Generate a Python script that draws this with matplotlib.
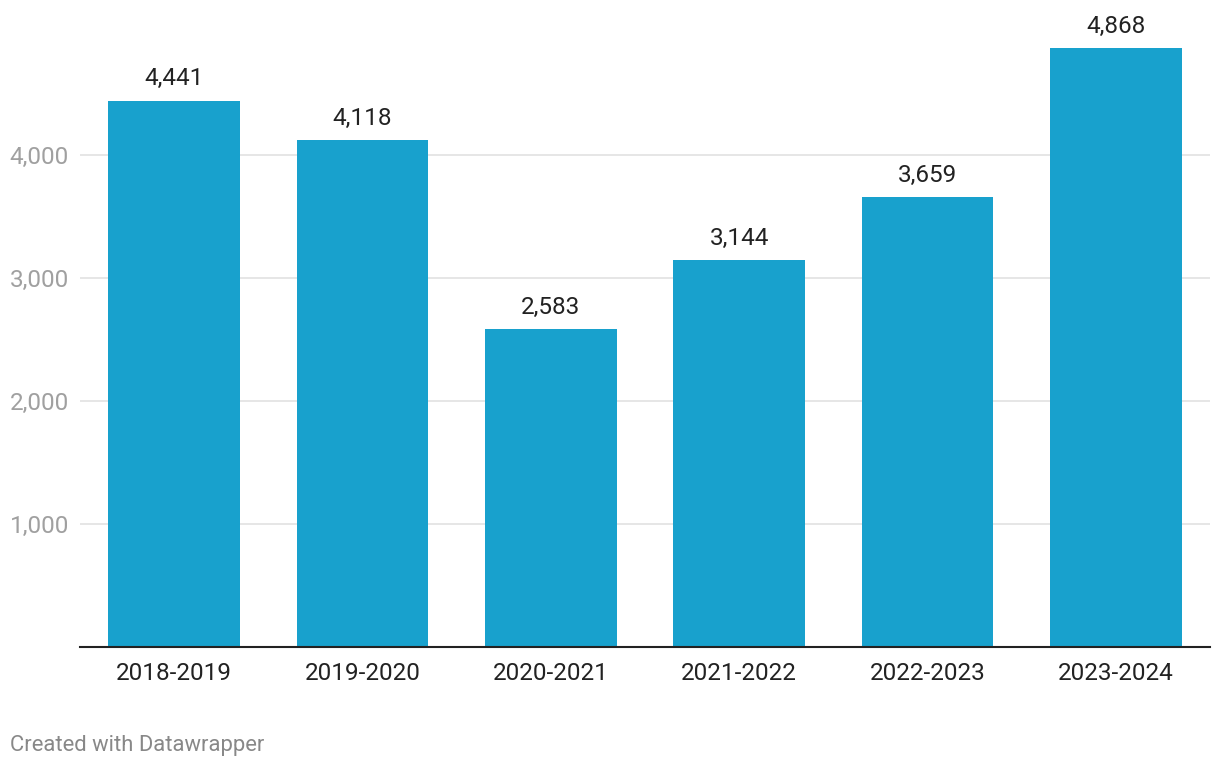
import matplotlib.pyplot as plt
from matplotlib.ticker import FuncFormatter

# Datos
temporadas = ['2018-2019', '2019-2020', '2020-2021', '2021-2022', '2022-2023', '2023-2024']
valores = [4441, 4118, 2583, 3144, 3659, 4868]
ticks_y = [1000, 2000, 3000, 4000]

plt.rcParams['font.family'] = ['Roboto', 'DejaVu Sans']

W, H = 1220, 768
fig = plt.figure(figsize=(W / 100, H / 100), dpi=100)
# ejes en pixeles: izquierda 80, derecha 1210, base 647
top = 10
ax = fig.add_axes([80 / W, (H - 647) / H, 1130 / W, (647 - top) / H])

x = range(len(temporadas))
barras = ax.bar(x, valores, width=0.70, color='#18a1cd', zorder=2)

ax.set_xlim(-0.5, len(temporadas) - 0.5)
ax.set_ylim(0, (647 - top) / 0.123)

# Etiquetas sobre las barras
for b, v in zip(barras, valores):
    ax.annotate(f'{v:,}', (b.get_x() + b.get_width() / 2, v), xytext=(0, 7.5),
                textcoords='offset points', ha='center', va='bottom',
                fontsize=17.5, color='#222222')

ax.set_yticks(ticks_y)
ax.yaxis.set_major_formatter(FuncFormatter(lambda v, p: f'{int(v):,}'))
ax.grid(axis='y', color='#e2e2e2', linewidth=1.2, zorder=0)
ax.tick_params(axis='y', length=0, pad=8, labelsize=17.5, labelcolor='#a0a0a0')

ax.set_xticks(list(x))
ax.set_xticklabels(temporadas)
ax.tick_params(axis='x', length=0, pad=11, labelsize=17.5, labelcolor='#222222')

for s in ['top', 'right', 'left']:
    ax.spines[s].set_visible(False)
ax.spines['bottom'].set_color('#222222')
ax.spines['bottom'].set_linewidth(1.5)
ax.spines['bottom'].set_zorder(3)

fig.text(10 / W, 1 - 745 / H, 'Created with Datawrapper', ha='left', va='center',
         fontsize=15.8, color='#888888')

fig.savefig('out.png', dpi=100)
